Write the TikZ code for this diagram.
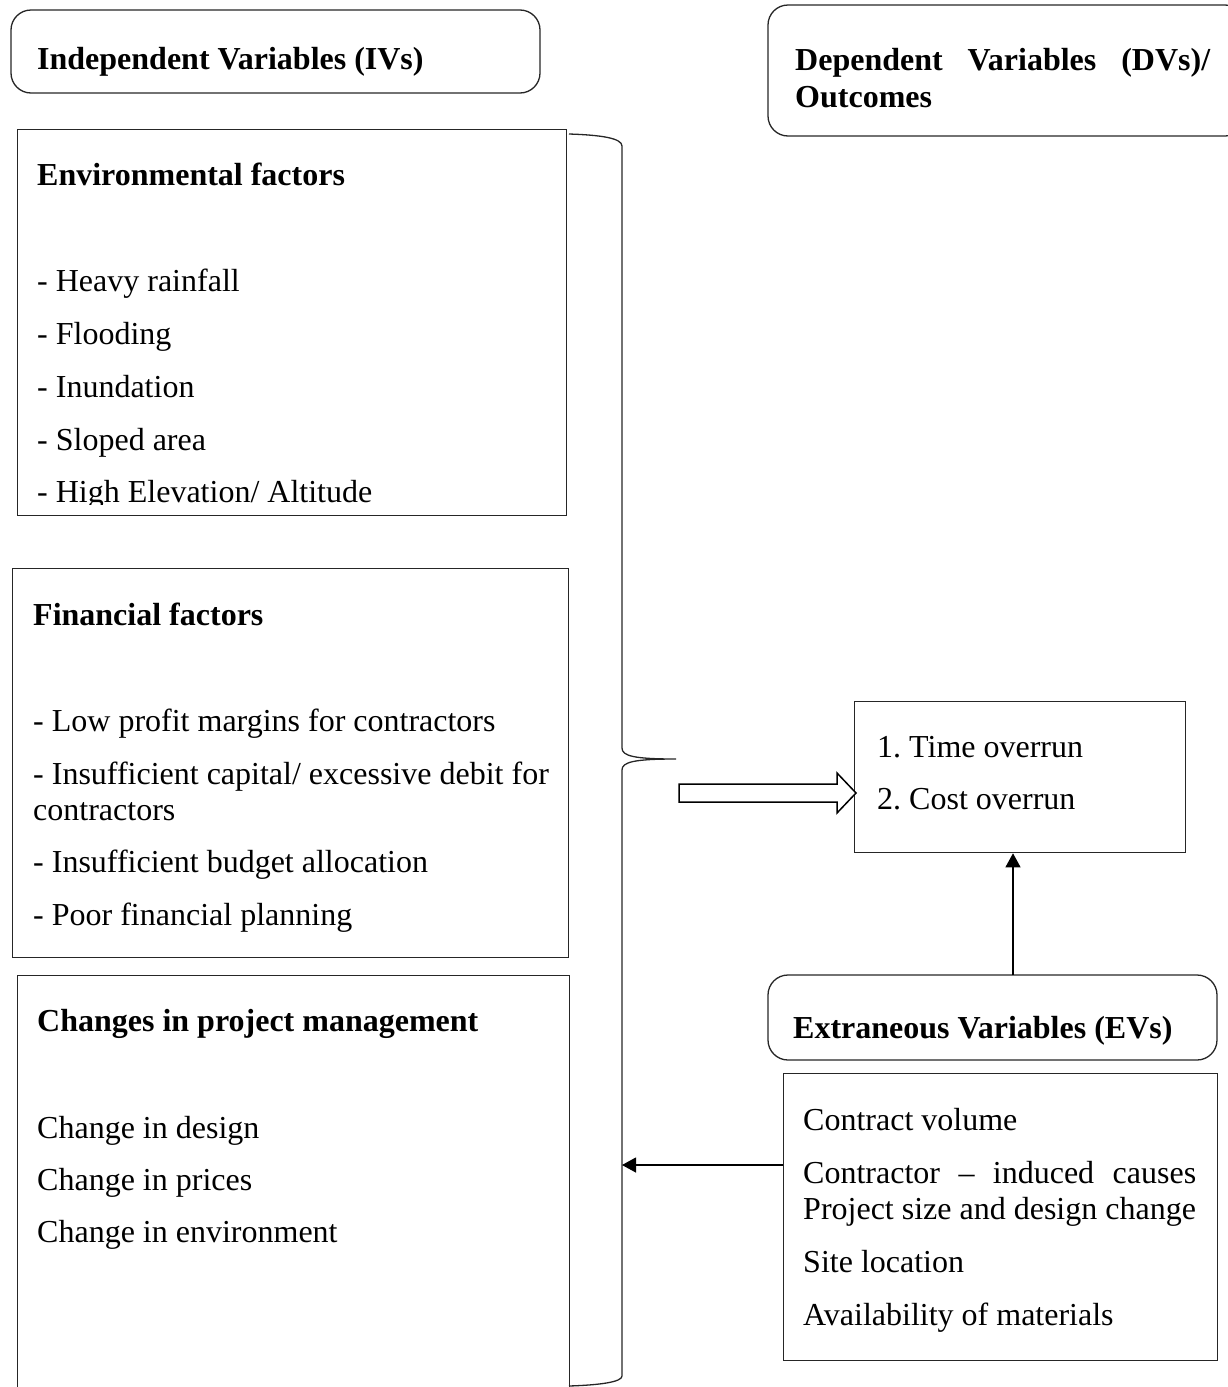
\documentclass[tikz,border=0pt]{standalone}
\usepackage{fontspec}
\setmainfont{Liberation Serif}
\usetikzlibrary{arrows.meta}
\frenchspacing
\begin{document}
\begin{tikzpicture}[x=1pt,y=-1pt,
  txt/.style={anchor=base west,inner sep=0pt,font=\fontsize{32}{36.5}\selectfont\frenchspacing},
  hd/.style={txt,font=\fontsize{32}{36.5}\selectfont\bfseries\frenchspacing},
  boxline/.style={draw=black!85,line width=1.3pt},
  sqbox/.style={boxline,anchor=north west,inner sep=0pt},
  rbox/.style={boxline,rounded corners=20pt},
  arr/.style={line width=1.2pt,-{Triangle[width=15pt,length=14pt]}}]
\useasboundingbox (0,0) rectangle (1227,1387);

% rounded header boxes
\draw[rbox] (11,10) rectangle (540,93);
\node[hd] (ivh) at (37,69) {Independent Variables (IVs)};
\draw[rbox] (768,5) rectangle (1245,136);
\node[hd] (dvh1) at (795,70) {\hbox to 415pt{Dependent\hfill Variables\hfill (DVs)/}};
\node[hd] (dvh2) at (795,107) {Outcomes};

% environmental factors
\node[sqbox,minimum width=549pt,minimum height=386pt] (env) at (17,129) {};
\node[hd] (envh) at (37,185) {Environmental factors};
\node[txt] (e1) at (37,291) {- Heavy rainfall};
\node[txt] (e2) at (37,344) {- Flooding};
\node[txt] (e3) at (37,397) {- Inundation};
\node[txt] (e4) at (37,450) {- Sloped area};
\begin{scope}
\clip (17,129) rectangle (566,504);
\node[txt] (e5) at (37,502) {- High Elevation/ Altitude};
\end{scope}

% financial factors
\node[sqbox,minimum width=556pt,minimum height=389pt] (fin) at (12,568) {};
\node[hd] (finh) at (33,625) {Financial factors};
\node[txt] (f1) at (33,731) {- Low profit margins for contractors};
\node[txt] (f2) at (33,784) {- Insufficient capital/ excessive debit for};
\node[txt] (f3) at (33,820) {contractors};
\node[txt] (f4) at (33,872) {- Insufficient budget allocation};
\node[txt] (f5) at (33,925) {- Poor financial planning};

% changes in project management
\node[sqbox,minimum width=552pt,minimum height=420pt] (chg) at (17,975) {};
\node[hd] (chgh) at (37,1031) {Changes in project management};
\node[txt] (c1) at (37,1138) {Change in design};
\node[txt] (c2) at (37,1190) {Change in prices};
\node[txt] (c3) at (37,1242) {Change in environment};

% brace
\draw[line width=1.3pt,black!85] (569,134) .. controls (600,135) and (622,138) .. (622,146)
  -- (622,748) .. controls (622,756) and (634,759) .. (676,759)
  .. controls (634,759) and (622,762) .. (622,770)
  -- (622,1376) .. controls (622,1382) and (600,1385) .. (569,1386);
\coordinate (bx) at (622,1165);

% outcomes
\node[sqbox,minimum width=331pt,minimum height=151pt] (out) at (854,701) {};
\node[txt] (o1) at (877,757) {1. Time overrun};
\node[txt] (o2) at (877,809) {2. Cost overrun};

% hollow arrow
\draw[line width=1.5pt,fill=white] (679,784) -- (837,784) -- (837,773) -- (856,793)
  -- (837,813) -- (837,802) -- (679,802) -- cycle;

% extraneous variables
\draw[rbox] (768,975) rectangle (1217,1060);
\coordinate (evtop) at (1013,975);
\node[hd] (evh) at (793,1038) {Extraneous Variables (EVs)};
\node[sqbox,minimum width=434pt,minimum height=287pt] (evl) at (783,1073) {};
\node[txt] (v1) at (803,1130) {Contract volume};
\node[txt] (v2) at (803,1183) {\hbox to 393pt{Contractor\hfill –\hfill induced\hfill causes}};
\node[txt] (v3) at (803,1219) {Project size and design change};
\node[txt] (v4) at (803,1272) {Site location};
\node[txt] (v5) at (803,1325) {Availability of materials};

% arrows
\draw[arr] (evtop) -- (out.south -| evtop);
\draw[arr] (evl.west |- bx) -- (bx);
\end{tikzpicture}
\end{document}
